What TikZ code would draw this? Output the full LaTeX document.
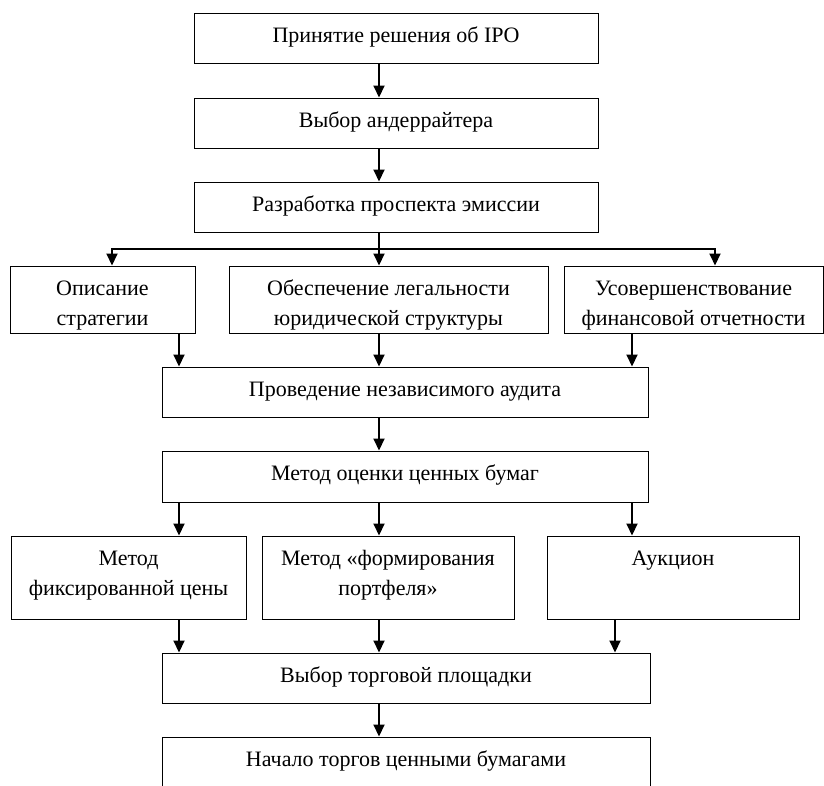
\documentclass[tikz,border=0pt]{standalone}
\usepackage{fontspec}
\setmainfont{Liberation Serif}
\usetikzlibrary{arrows.meta}
\newcommand\bxt[3]{\parbox[c][#2pt][t]{#1pt}{\centering\rule{0pt}{29pt}#3\par}}
\begin{document}
\begin{tikzpicture}[x=1pt,y=-1pt,
  box/.style={draw=black, line width=1pt, inner sep=0pt, font=\fontsize{22}{30}\selectfont},
  ln/.style={line width=2pt, draw=black},
  arr/.style={line width=2pt, draw=black, -{Triangle[length=12pt,width=11pt]}}]
\useasboundingbox (0,0) rectangle (824,785);
\coordinate (axis) at (379,0);
% top chain
\node[box] (b1) at (396,38) {\bxt{404}{50}{Принятие решения об IPO}};
\node[box] (b2) at (396,123) {\bxt{404}{50}{Выбор андеррайтера}};
\node[box] (b3) at (396,207) {\bxt{404}{50}{Разработка проспекта эмиссии}};
% second row
\node[box] (s1) at (102.5,299.5) {\bxt{185}{67}{Описание\\стратегии}};
\node[box] (s2) at (388.5,299.5) {\bxt{319}{67}{Обеспечение легальности\\юридической структуры}};
\node[box] (s3) at (693.5,299.5) {\bxt{259}{67}{Усовершенствование\\финансовой отчетности}};
% audit and valuation
\node[box] (au) at (405,392) {\bxt{486}{50}{Проведение независимого аудита}};
\node[box] (va) at (405,476.5) {\bxt{486}{51}{Метод оценки ценных бумаг}};
% third row
\node[box] (m1) at (128.5,577.5) {\bxt{235}{83}{Метод\\фиксированной цены}};
\node[box] (m2) at (388,577.5) {\bxt{252}{83}{Метод «формирования\\портфеля»}};
\node[box] (m3) at (673,577.5) {\bxt{252}{83}{Аукцион}};
% bottom
\node[box] (tp) at (406,678) {\bxt{488}{50}{Выбор торговой площадки}};
\node[box] (nt) at (406,762) {\bxt{488}{50}{Начало торгов ценными бумагами}};
% coordinates for connector columns
\coordinate (br) at (379,249);
\coordinate (xa) at (112,0);
\coordinate (xb) at (715,0);
\coordinate (xc) at (179,0);
\coordinate (xd) at (632,0);
\coordinate (xe) at (615,0);
% connectors
\draw[arr] (b1.south -| axis) -- (b2.north -| axis);
\draw[arr] (b2.south -| axis) -- (b3.north -| axis);
\draw[ln] (b3.south -| axis) -- (br);
\draw[arr] (br) -- (s2.north -| axis);
\draw[arr] (br) -| (s1.north -| xa);
\draw[arr] (br) -| (s3.north -| xb);
\draw[arr] (s1.south -| xc) -- (au.north -| xc);
\draw[arr] (s2.south -| axis) -- (au.north -| axis);
\draw[arr] (s3.south -| xd) -- (au.north -| xd);
\draw[arr] (au.south -| axis) -- (va.north -| axis);
\draw[arr] (va.south -| xc) -- (m1.north -| xc);
\draw[arr] (va.south -| axis) -- (m2.north -| axis);
\draw[arr] (va.south -| xd) -- (m3.north -| xd);
\draw[arr] (m1.south -| xc) -- (tp.north -| xc);
\draw[arr] (m2.south -| axis) -- (tp.north -| axis);
\draw[arr] (m3.south -| xe) -- (tp.north -| xe);
\draw[arr] (tp.south -| axis) -- (nt.north -| axis);
\end{tikzpicture}
\end{document}
